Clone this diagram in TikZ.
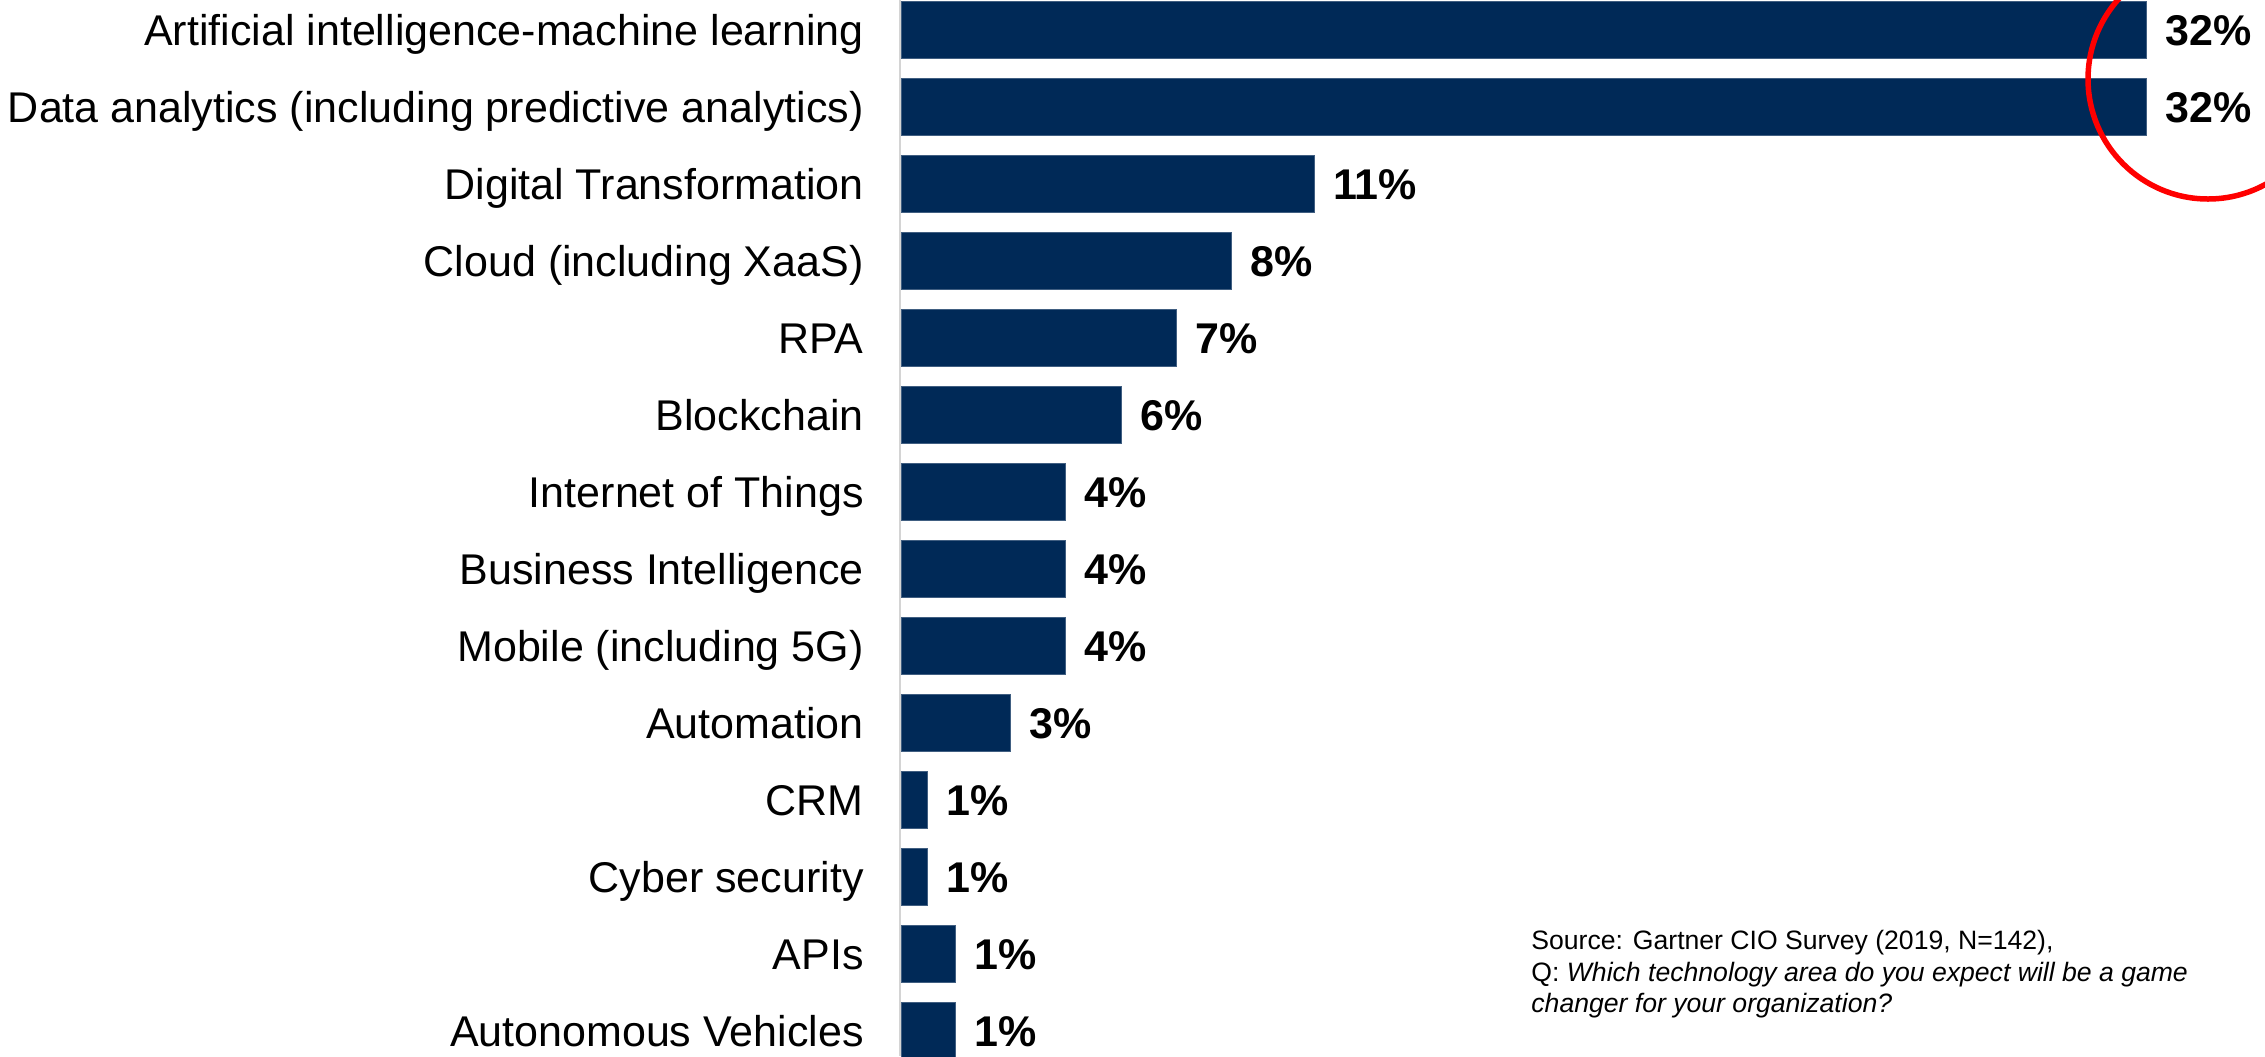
\documentclass[tikz,border=0pt]{standalone}
\usepackage{fontspec}
\setmainfont{Liberation Sans}
\usepackage{xcolor}
\usetikzlibrary{positioning}

\definecolor{barblue}{RGB}{0,41,87}
\definecolor{axisgray}{RGB}{212,212,212}

\begin{document}
\begin{tikzpicture}[x=0.5pt,y=-0.5pt,
  bar/.style={fill=barblue, draw=barblue!75!white, line width=0.4pt, inner sep=0pt, minimum height=28.5pt, anchor=west},
  lab/.style={inner sep=0pt, font=\fontsize{21.5}{26}\selectfont, anchor=base east},
  pct/.style={inner sep=0pt, font=\fontsize{21.5}{26}\selectfont\bfseries, anchor=base west},
  note/.style={inner sep=0pt, font=\fontsize{13.3}{15.7}\selectfont, align=left, anchor=north west}]
\useasboundingbox (0,0) rectangle (2265,1056);

% Declare variables for the layout (in px)
\def\x{901}
\def\p{77}

% Draw the axis
\coordinate (axtop) at (900,0);
\coordinate (axbot) at (900,1056);
\draw[axisgray, line width=1pt] (axtop) -- (axbot);

% Draw the bars with their labels and values
\foreach \i/\w/\t/\v in {1/1245/{Artificial intelligence-machine learning}/32,
    2/1245/{Data analytics (including predictive analytics)}/32,
    3/413/{Digital Transformation}/11, 4/330/{Cloud (including XaaS)}/8,
    5/275/{RPA}/7, 6/220/{Blockchain}/6, 7/164/{Internet of Things}/4,
    8/164/{Business Intelligence}/4, 9/164/{Mobile (including 5G)}/4,
    10/109/{Automation}/3, 11/26/{CRM}/1, 12/26/{Cyber security}/1,
    13/54/{APIs}/1, 14/54/{Autonomous Vehicles}/1} {
    \pgfmathsetmacro{\yc}{29.5+\p*(\i-1)}
    \node[bar, minimum width=\w*0.5pt] (bar\i) at (\x,\yc) {};
    \node[lab] (lab\i) at (864,\yc+16) {\t};
    \node[pct] (pct\i) at ([shift={(18,16)}]bar\i.east) {\v\%};
}

% Draw the ring round the top values
\draw[red, line width=2.75pt] (2208,79) circle (120);

% Draw the source note
\node[note] (src) at (1531,930) {Source: Gartner CIO Survey (2019, N=142),\\
  Q: \textit{Which technology area do you expect will be a game}\\
  \textit{changer for your organization?}};

\end{tikzpicture}
\end{document}
